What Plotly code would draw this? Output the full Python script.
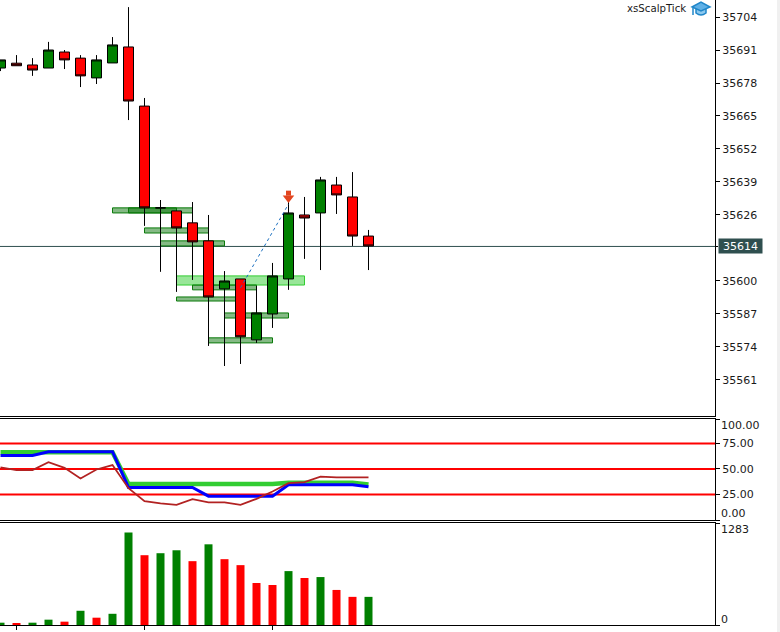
"""Scalping chart: candles with zones, indicator panel and volume panel."""

import plotly.graph_objects as go
from plotly.subplots import make_subplots

W, H = 780, 632
AXIS_X = 715
BAR_PX = 16

bar_index = list(range(24))
opens = [35683.9, 35685.8, 35685.1, 35683.9, 35690.2, 35687.8, 35680.0, 35685.9,
         35692.2, 35668.9, 35628.8, 35627.6, 35622.9, 35615.8, 35596.9, 35600.8,
         35576.8, 35587.0, 35600.8, 35626.0, 35626.8, 35637.8, 35633.1, 35617.7]
closes = [35687.1, 35684.8, 35683.1, 35691.0, 35687.1, 35680.8, 35687.1, 35693.0,
          35670.9, 35628.8, 35628.8, 35620.9, 35615.4, 35593.7, 35600.0, 35578.0,
          35587.4, 35602.0, 35626.8, 35624.8, 35639.8, 35633.9, 35617.7, 35613.8]
highs = [35687.1, 35689.0, 35687.8, 35694.2, 35691.0, 35689.0, 35689.0, 35696.1,
         35707.9, 35672.1, 35631.9, 35627.6, 35631.1, 35626.0, 35603.9, 35600.8,
         35598.0, 35607.1, 35632.7, 35633.1, 35641.0, 35641.0, 35642.9, 35620.1]
lows = [35682.7, 35684.8, 35680.8, 35683.9, 35683.5, 35676.4, 35677.6, 35685.9,
        35663.4, 35621.7, 35603.6, 35595.7, 35600.4, 35574.4, 35566.5, 35567.3,
        35575.6, 35581.5, 35596.5, 35608.7, 35604.3, 35626.4, 35613.8, 35604.3]

price_ticks = [35704, 35691, 35678, 35665, 35652, 35639, 35626, 35600, 35587, 35574, 35561]
last_price = 35613.6
last_label = "35614"

# supply/demand boxes: first bar, last bar, top price, bottom price
zone_start = [7, 8, 9, 10, 12, 11, 14, 13]
zone_end = [11, 12, 13, 14, 16, 15, 18, 17]
zone_top = [35628.8, 35628.8, 35620.9, 35615.8, 35598.4, 35593.7, 35587.4, 35577.6]
zone_bottom = [35626.8, 35626.8, 35618.9, 35613.8, 35596.5, 35592.1, 35585.4, 35575.6]
wide_zone_start = [11]
wide_zone_end = [19]
wide_zone_top = [35602.0]
wide_zone_bottom = [35598.4]

signal_x = [15, 18]
signal_y = [35597.3, 35630.3]
arrow_x = [18]
arrow_head = [35632.7]
arrow_tail = [35634.6]

fast_line = [66.5, 66.5, 66.5, 66.5, 66.5, 66.5, 66.5, 66.5, 35.2, 35.2, 35.2, 35.2,
             35.2, 35.2, 35.2, 35.2, 35.2, 35.2, 36.5, 36.5, 36.5, 36.5, 36.5, 34.8]
slow_line = [63.2, 63.2, 63.2, 66.9, 66.9, 66.9, 66.9, 66.9, 31.9, 31.9, 31.9, 31.9,
             31.9, 23.4, 23.4, 23.4, 23.4, 23.4, 34.5, 34.5, 34.5, 34.5, 34.5, 32.5]
osc_line = [51.5, 48.9, 48.9, 56.7, 51.1, 40.7, 49.5, 53.8, 31.2, 18.5, 16.2, 14.9,
            20.4, 17.2, 17.2, 14.9, 20.7, 27.9, 36.1, 37.1, 42.6, 41.7, 41.7, 41.7]
osc_levels = [25, 50, 75]

volumes = [29, 17, 29, 67, 42, 179, 92, 141, 1165, 878, 903, 940,
           803, 1015, 828, 753, 528, 503, 678, 591, 603, 441, 354, 354]
volume_colors = ["green", "red", "green", "green", "red", "green", "red", "green",
                 "green", "red", "green", "green", "red", "green", "red", "red",
                 "red", "red", "green", "red", "green", "red", "red", "green"]
time_ticks = [1, 9, 17]


def px(x):
    return x / W


def py(y):
    return 1 - y / H


fig = make_subplots(rows=3, cols=1, shared_xaxes=True)

fig.add_trace(go.Scatter(x=signal_x, y=signal_y, mode="lines",
                         line=dict(color="#1a6fc0", width=1, dash="dot")), row=1, col=1)
fig.add_trace(go.Candlestick(
    x=bar_index, open=opens, high=highs, low=lows, close=closes,
    whiskerwidth=0,
    increasing=dict(line=dict(color="black", width=1), fillcolor="#008000"),
    decreasing=dict(line=dict(color="black", width=1), fillcolor="#ff0000"),
), row=1, col=1)
fig.add_trace(go.Scatter(x=arrow_x, y=arrow_tail, mode="markers",
                         marker=dict(symbol="square", size=5, color="#e2451f")), row=1, col=1)
fig.add_trace(go.Scatter(x=arrow_x, y=arrow_head, mode="markers",
                         marker=dict(symbol="triangle-down", size=10, color="#e2451f")), row=1, col=1)

fig.add_trace(go.Scatter(x=bar_index, y=fast_line, mode="lines",
                         line=dict(color="#32cd32", width=4.5)), row=2, col=1)
fig.add_trace(go.Scatter(x=bar_index, y=slow_line, mode="lines",
                         line=dict(color="#0000ff", width=3)), row=2, col=1)
fig.add_trace(go.Scatter(x=bar_index, y=osc_line, mode="lines",
                         line=dict(color="#b22222", width=1.8)), row=2, col=1)

fig.add_trace(go.Bar(x=bar_index, y=volumes, width=0.5,
                     marker=dict(color=volume_colors, line_width=0)), row=3, col=1)

for a, b, top, bottom in zip(wide_zone_start, wide_zone_end, wide_zone_top, wide_zone_bottom):
    fig.add_shape(type="rect", xref="x", yref="y", x0=a, x1=b, y0=bottom, y1=top, layer="below",
                  fillcolor="rgba(50,205,50,0.5)", line=dict(color="#32cd32", width=1))
for a, b, top, bottom in zip(zone_start, zone_end, zone_top, zone_bottom):
    fig.add_shape(type="rect", xref="x", yref="y", x0=a, x1=b, y0=bottom, y1=top, layer="below",
                  fillcolor="rgba(0,110,0,0.48)", line=dict(color="#0a7a0a", width=1))

fig.add_shape(type="line", xref="x domain", yref="y", x0=0, x1=1, y0=last_price, y1=last_price,
              layer="below", line=dict(color="#2f4f4f", width=1))
for level in osc_levels:
    fig.add_shape(type="line", xref="x2 domain", yref="y2", x0=0, x1=1, y0=level, y1=level,
                  layer="below", line=dict(color="#ff0000", width=2))

# window edge
fig.add_shape(type="rect", xref="paper", yref="paper", x0=px(777), x1=1, y0=0, y1=1,
              fillcolor="#f0f0f0", line_width=0, layer="below")

# graduation cap next to the name
CAP = "#1f86c9"
fig.add_shape(type="path", xref="paper", yref="paper", line=dict(color=CAP, width=1.5), fillcolor="#8cc8ee",
              path=f"M {px(696)} {py(9)} L {px(696)} {py(13)} Q {px(701)} {py(17)} {px(706)} {py(13)} L {px(706)} {py(9)} Z")
fig.add_shape(type="path", xref="paper", yref="paper", line=dict(color=CAP, width=1.5), fillcolor="#5fb0e6",
              path=f"M {px(692)} {py(7)} L {px(701)} {py(2)} L {px(710)} {py(7)} L {px(701)} {py(11)} Z")
fig.add_shape(type="line", xref="paper", yref="paper", line=dict(color=CAP, width=1.5),
              x0=px(693), x1=px(693), y0=py(8), y1=py(15))

font = dict(family="DejaVu Sans", size=11, color="#1a1a1a")
fig.add_annotation(xref="paper", yref="paper", x=px(688), y=py(9), text="xsScalpTick", showarrow=False,
                   xanchor="right", yanchor="middle", font=dict(family="DejaVu Sans", size=10.2, color="#1a1a1a"))
fig.add_annotation(xref="paper", yref="paper", x=px(718), y=py(246), width=43, height=14, text=last_label,
                   showarrow=False, xanchor="left", yanchor="middle", bgcolor="#2f4f4f", borderpad=0,
                   font=dict(family="DejaVu Sans", size=11, color="white"))
fig.add_shape(type="line", xref="paper", yref="paper", x0=px(AXIS_X), x1=px(718), y0=py(246.5), y1=py(246.5),
              line=dict(color="black", width=1))
for text, y in (("100.00", 425), ("0.00", 513), ("1283", 529), ("0", 619)):
    fig.add_annotation(xref="paper", yref="paper", x=px(720), y=py(y), text=text, showarrow=False,
                       xanchor="left", yanchor="middle", borderpad=0, font=font)

axis_style = dict(showgrid=False, zeroline=False, showline=True, linecolor="black", linewidth=1,
                  ticks="outside", ticklen=4, tickcolor="black", tickwidth=1,
                  side="right", tickfont=font)
fig.update_yaxes(row=1, col=1, domain=[py(416), 1], range=[35546.8, 35710.7], tickvals=price_ticks,
                 ticktext=[str(t) for t in price_ticks], **axis_style)
fig.update_yaxes(row=2, col=1, domain=[py(520), py(419)], range=[0, 99], tickvals=[0, 25, 50, 75, 99],
                 ticktext=["", "25.00", "50.00", "75.00", ""], **axis_style)
fig.update_yaxes(row=3, col=1, domain=[py(625), py(523)], range=[0, 1283], tickvals=[0, 1283],
                 ticktext=["", ""], **axis_style)

# half a pixel off so the wicks land on whole pixel rows
x_range = [-0.5 / BAR_PX, (AXIS_X - 0.5) / BAR_PX]
fig.update_xaxes(range=x_range, domain=[0, px(AXIS_X)], showgrid=False, zeroline=False, showline=True,
                 linecolor="black", linewidth=1, rangeslider_visible=False)
fig.update_xaxes(row=2, col=1, mirror=True)
fig.update_xaxes(row=3, col=1, mirror=True, ticks="outside", ticklen=4, tickcolor="black",
                 tickvals=time_ticks, ticktext=["", "", ""])

fig.update_layout(width=W, height=H, margin=dict(l=0, r=0, t=0, b=0), autosize=False,
                  paper_bgcolor="white", plot_bgcolor="white", showlegend=False,
                  boxgap=0.375, boxgroupgap=0, font=font)

fig.write_html("out.html", config=dict(displayModeBar=False),
               post_script="document.body.style.margin='0';document.body.style.overflow='hidden';")
